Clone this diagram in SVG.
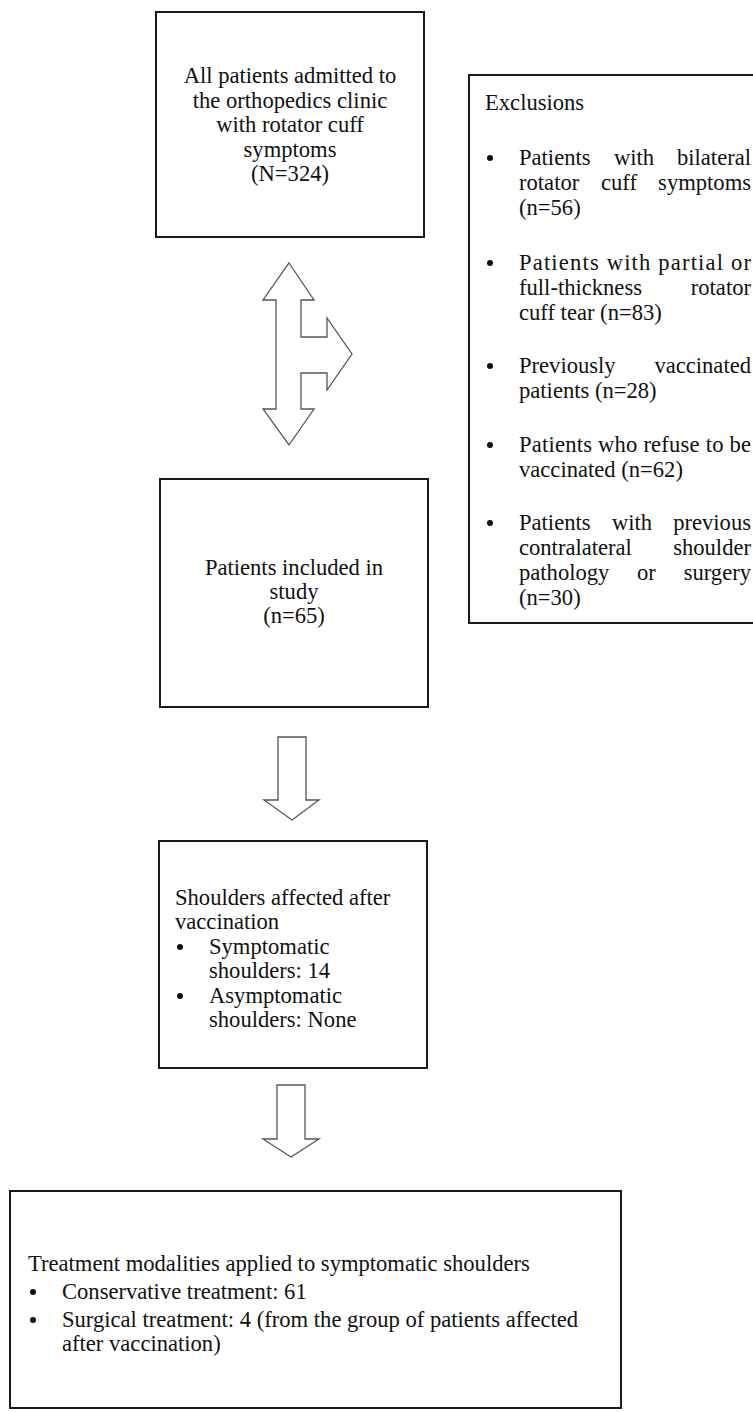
<svg xmlns="http://www.w3.org/2000/svg" width="753" height="1412" viewBox="0 0 753 1412">
<style>
.box{fill:#fff;stroke:#1a1a1a;stroke-width:2}
.arr{fill:#fff;stroke:#555;stroke-width:1.3;stroke-linejoin:miter}
text{font-family:"Liberation Serif","Times New Roman",serif;font-size:22.6px;fill:#111}
.c{text-anchor:middle}
.e{text-anchor:end}
.b{fill:#111}
</style>
<rect width="753" height="1412" fill="#fff"/>
<g id="connectors">
<path class="arr" d="M289,263 L314,300 L301,300 L301,337 L327,337 L327,318 L352,354 L327,390 L327,373 L301,373 L301,409 L314,409 L289,445 L263,409 L276,409 L276,300 L263,300 Z"/>
<path class="arr" d="M278,737 L306,737 L306,800 L319,800 L292,820 L264,800 L278,800 Z"/>
<path class="arr" d="M277,1085 L305,1085 L305,1139 L319,1139 L291,1157 L263,1139 L277,1139 Z"/>
</g>
<g id="node-all">
<rect class="box" x="156" y="12" width="268" height="225"/>
<text class="c" x="290" y="83">All patients admitted to</text>
<text class="c" x="290" y="108">the orthopedics clinic</text>
<text class="c" x="290" y="132">with rotator cuff</text>
<text class="c" x="290" y="157">symptoms</text>
<text class="c" x="290" y="181">(N=324)</text>
</g>
<g id="node-exclusions">
<rect class="box" x="469" y="75" width="292" height="548"/>
<text x="485" y="110">Exclusions</text>
<circle class="b" cx="490" cy="158" r="3"/>
<text x="519" y="165">Patients</text><text x="614" y="165">with</text><text class="e" x="751" y="165">bilateral</text>
<text x="519" y="190">rotator</text><text x="601" y="190">cuff</text><text class="e" x="751" y="190">symptoms</text>
<text x="519" y="215">(n=56)</text>
<circle class="b" cx="490" cy="263" r="3"/>
<text x="519" y="270" textLength="232" lengthAdjust="spacing">Patients with partial or</text>
<text x="519" y="295">full-thickness</text><text class="e" x="751" y="295">rotator</text>
<text x="519" y="320">cuff tear (n=83)</text>
<circle class="b" cx="490" cy="366" r="3"/>
<text x="519" y="373">Previously</text><text class="e" x="751" y="373">vaccinated</text>
<text x="519" y="398">patients (n=28)</text>
<circle class="b" cx="490" cy="445" r="3"/>
<text x="519" y="452" textLength="232" lengthAdjust="spacing">Patients who refuse to be</text>
<text x="519" y="477">vaccinated (n=62)</text>
<circle class="b" cx="490" cy="523" r="3"/>
<text x="519" y="530">Patients</text><text x="612" y="530">with</text><text class="e" x="751" y="530">previous</text>
<text x="519" y="555">contralateral</text><text class="e" x="751" y="555">shoulder</text>
<text x="519" y="580">pathology</text><text x="637" y="580">or</text><text class="e" x="751" y="580">surgery</text>
<text x="519" y="605">(n=30)</text>
</g>
<g id="node-included">
<rect class="box" x="160" y="479" width="268" height="228"/>
<text class="c" x="294" y="575">Patients included in</text>
<text class="c" x="294" y="599">study</text>
<text class="c" x="294" y="623">(n=65)</text>
</g>
<g id="node-shoulders">
<rect class="box" x="159" y="841" width="268" height="227"/>
<text x="175" y="905">Shoulders affected after</text>
<text x="175" y="929">vaccination</text>
<circle class="b" cx="180" cy="947" r="3"/>
<text x="209" y="954">Symptomatic</text>
<text x="209" y="978">shoulders: 14</text>
<circle class="b" cx="180" cy="996" r="3"/>
<text x="209" y="1003">Asymptomatic</text>
<text x="209" y="1027">shoulders: None</text>
</g>
<g id="node-treatment">
<rect class="box" x="10" y="1191" width="611" height="217"/>
<text x="28" y="1271">Treatment modalities applied to symptomatic shoulders</text>
<circle class="b" cx="33" cy="1292" r="3"/>
<text x="62" y="1299">Conservative treatment: 61</text>
<circle class="b" cx="33" cy="1320" r="3"/>
<text x="62" y="1327">Surgical treatment: 4 (from the group of patients affected</text>
<text x="62" y="1351">after vaccination)</text>
</g>
</svg>
